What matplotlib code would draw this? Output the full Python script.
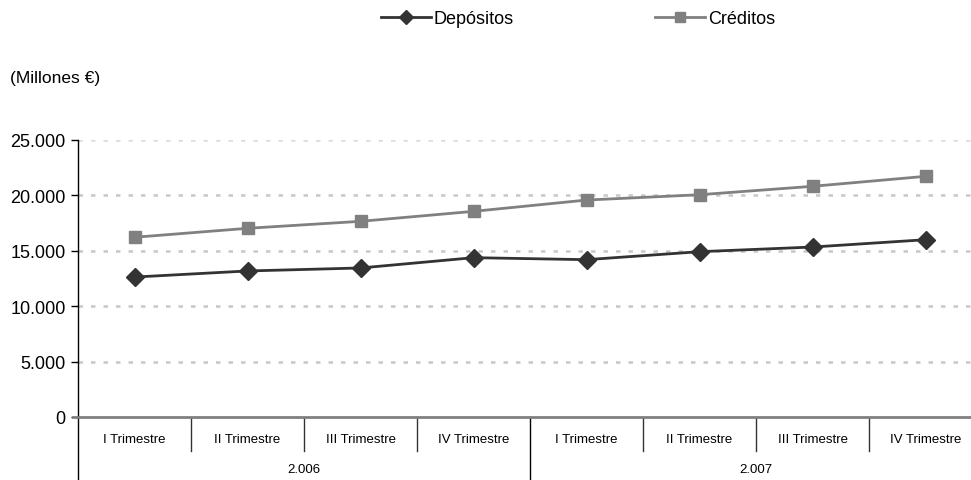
import matplotlib.pyplot as plt
import numpy as np

plt.rcParams['font.family'] = ['Liberation Sans', 'DejaVu Sans']

# data
trimestres = ['I Trimestre', 'II Trimestre', 'III Trimestre', 'IV Trimestre',
              'I Trimestre', 'II Trimestre', 'III Trimestre', 'IV Trimestre']
years = ['2.006', '2.007']
depositos = [12630, 13180, 13450, 14380, 14200, 14920, 15340, 16000]
creditos = [16220, 17030, 17660, 18560, 19580, 20060, 20820, 21720]
yticks = [0, 5000, 10000, 15000, 20000, 25000]
ytick_labels = ['0', '5.000', '10.000', '15.000', '20.000', '25.000']

fig = plt.figure(figsize=(9.71, 4.81), dpi=100)
W, H = 971, 481
left, right, bottom, top = 78, 982, 418, 141
ax = fig.add_axes([left / W, 1 - bottom / H, (right - left) / W, (bottom - top) / H])

x = np.arange(len(trimestres))
ax.plot(x, depositos, color='#333333', lw=2, marker='D', ms=9, label='Depósitos', zorder=4)
ax.plot(x, creditos, color='#808080', lw=2, marker='s', ms=9, label='Créditos', zorder=3)

ax.set_xlim(-0.5, 7.5)
ax.set_ylim(0, 25000)
ax.set_yticks(yticks)
ax.set_yticklabels(ytick_labels, fontsize=13)
ax.tick_params(axis='y', length=5, width=1, color='black', pad=4)
ax.set_xticks([])

# dotted gridlines
for v in yticks[1:]:
    c = '#dcdcdc' if v == yticks[-1] else '#c8c8c8'
    ax.axhline(v, color=c, lw=1.8, ls=(0, (1.8, 3.2)), zorder=1)

for s in ['top', 'right']:
    ax.spines[s].set_visible(False)
ax.spines['left'].set_color('black')
ax.spines['left'].set_linewidth(1)
ax.spines['bottom'].set_color('#808080')
ax.spines['bottom'].set_linewidth(2)

# category axis with separators
ah = bottom - top
tr = ax.get_xaxis_transform()
ax.plot([-0.5 - 5 / 113, -0.5], [0, 0], transform=tr, color='#808080', lw=2, clip_on=False)
sep_short = -(452 - bottom) / ah
sep_long = -(H - bottom) / ah
for i in range(1, len(trimestres)):
    if i % 4 == 0:
        continue
    ax.plot([i - 0.5, i - 0.5], [0, sep_short], transform=tr, color='#333333', lw=1, clip_on=False)
for i in [0, 4, 8]:
    ax.plot([i - 0.5, i - 0.5], [0, sep_long], transform=tr, color='black', lw=1, clip_on=False)

lab_y = -(440 - bottom) / ah
for i, t in enumerate(trimestres):
    ax.text(i, lab_y, t, transform=tr, ha='center', va='center', fontsize=9.5)
year_y = -(470 - bottom) / ah
for j, yr in enumerate(years):
    ax.text(4 * j + 1.5, year_y, yr, transform=tr, ha='center', va='center', fontsize=9.5)

fig.text(10 / W, 1 - 78 / H, '(Millones €)', fontsize=12.5, ha='left', va='center')

fig.legend(loc='center', bbox_to_anchor=(578 / W, 1 - 20 / H), ncol=2, frameon=False,
           fontsize=13, handlelength=2.8, handletextpad=0.15, columnspacing=7.8,
           markerscale=0.75)

fig.savefig('out.png', dpi=100)
